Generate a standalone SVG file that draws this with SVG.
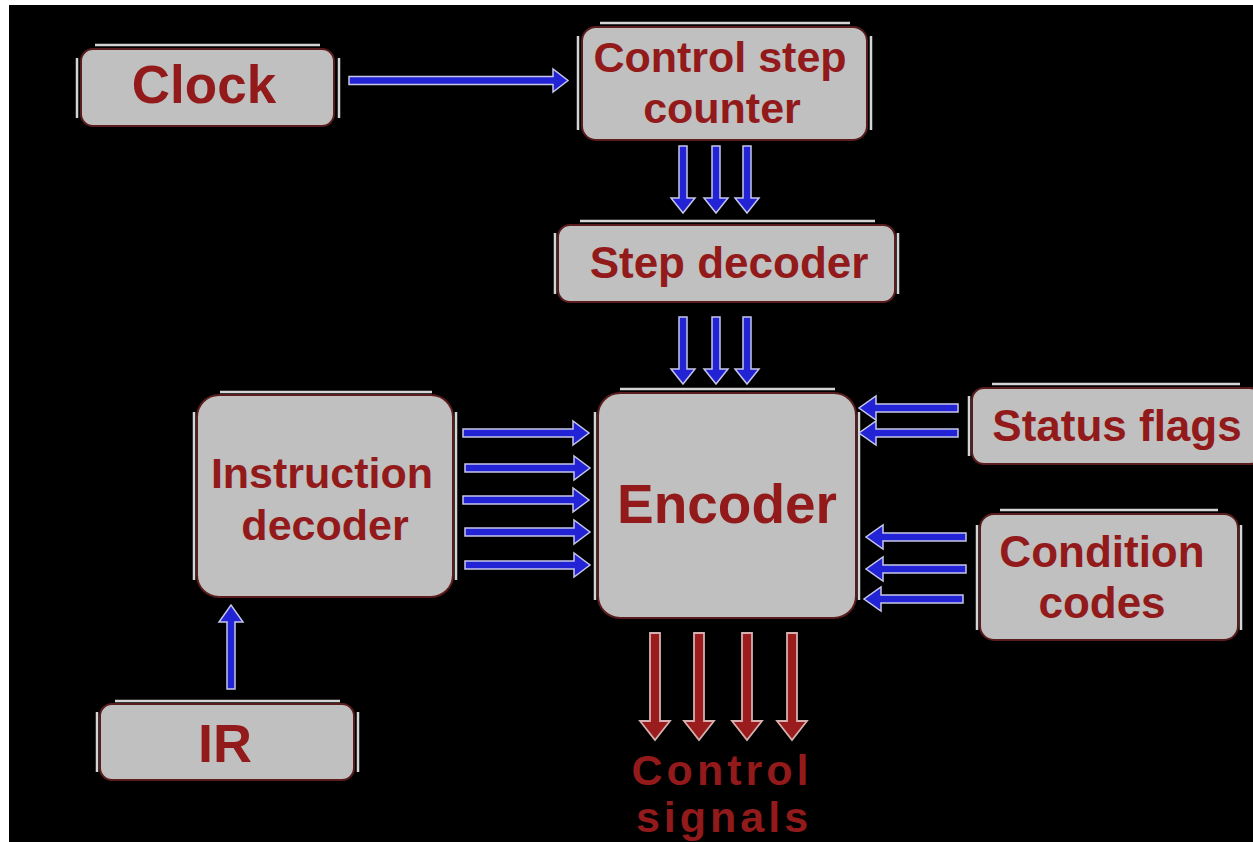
<svg xmlns="http://www.w3.org/2000/svg" width="1253" height="842" viewBox="0 0 1253 842">
<style>
.bx{fill:#c0c0c0;stroke:#5a1c1c;stroke-width:2}
.hl{fill:none;stroke:#d4d4d4;stroke-width:2.5}
.t{font-family:"Liberation Sans",Arial,sans-serif;font-weight:bold;fill:#921a1a;text-anchor:middle}
.ab{fill:#2323d6;stroke:#c6c6ea;stroke-width:1.5;stroke-linejoin:miter}
.ar{fill:#9a1c1c;stroke:#d6b0b0;stroke-width:1.8}
</style>
<rect x="0" y="0" width="1253" height="842" fill="#ffffff"/>
<rect x="9" y="5" width="1244" height="837" fill="#000000"/>

<g id="clock">
<rect class="bx" x="81" y="49" width="253" height="77" rx="12"/>
<path class="hl" d="M95 45H320M77 58V118M339 58V118"/>
<text class="t" x="204" y="103" font-size="53">Clock</text>
</g>
<g id="control-step-counter">
<rect class="bx" x="582" y="27" width="285" height="113" rx="14"/>
<path class="hl" d="M600 23H850M578 36V130M871 36V130"/>
<text class="t" x="720" y="72" font-size="43">Control step</text>
<text class="t" x="722" y="123" font-size="43">counter</text>
</g>
<g id="step-decoder">
<rect class="bx" x="558" y="225" width="337" height="77" rx="12"/>
<path class="hl" d="M580 221H875M555 233V294M898 233V294"/>
<text class="t" x="729" y="278" font-size="44">Step decoder</text>
</g>
<g id="encoder">
<rect class="bx" x="598" y="393" width="258" height="225" rx="22"/>
<path class="hl" d="M620 389H835M595 412V600M859 412V600"/>
<text class="t" x="727" y="523" font-size="55">Encoder</text>
</g>
<g id="instruction-decoder">
<rect class="bx" x="197" y="395" width="256" height="202" rx="22"/>
<path class="hl" d="M220 392H432M194 412V580M456 412V580"/>
<text class="t" x="322" y="488" font-size="43">Instruction</text>
<text class="t" x="325" y="540" font-size="43">decoder</text>
</g>
<g id="status-flags">
<rect class="bx" x="972" y="388" width="290" height="76" rx="12"/>
<path class="hl" d="M992 384H1240M969 396V456"/>
<text class="t" x="1117" y="441" font-size="44">Status flags</text>
</g>
<g id="condition-codes">
<rect class="bx" x="980" y="514" width="258" height="126" rx="14"/>
<path class="hl" d="M1000 510H1218M977 525V630M1241 525V630"/>
<text class="t" x="1102" y="567" font-size="44">Condition</text>
<text class="t" x="1102" y="618" font-size="44">codes</text>
</g>
<g id="ir">
<rect class="bx" x="100" y="704" width="254" height="76" rx="12"/>
<path class="hl" d="M115 701H340M97 712V772M358 712V772"/>
<text class="t" x="225" y="762" font-size="54">IR</text>
</g>
<g id="control-signals">
<text class="t" x="722" y="785" font-size="43" letter-spacing="4">Control</text>
<text class="t" x="724" y="832" font-size="43" letter-spacing="4">signals</text>
</g>

<g id="connectors">
<polygon class="ab" points="349,76.5 553,76.5 553,69 568,80.5 553,92 553,84.5 349,84.5"/>
<polygon class="ab" points="679,146 687,146 687,198 695,198 683,213 671,198 679,198"/>
<polygon class="ab" points="712,146 720,146 720,198 728,198 716,213 704,198 712,198"/>
<polygon class="ab" points="743,146 751,146 751,198 759,198 747,213 735,198 743,198"/>
<polygon class="ab" points="679,317 687,317 687,369 695,369 683,384 671,369 679,369"/>
<polygon class="ab" points="712,317 720,317 720,369 728,369 716,384 704,369 712,369"/>
<polygon class="ab" points="743,317 751,317 751,369 759,369 747,384 735,369 743,369"/>
<polygon class="ab" points="463,429 573,429 573,421 589,433 573,445 573,437 463,437"/>
<polygon class="ab" points="465,464 574,464 574,456 590,468 574,480 574,472 465,472"/>
<polygon class="ab" points="463,496 573,496 573,488 589,500 573,512 573,504 463,504"/>
<polygon class="ab" points="465,528 574,528 574,520 590,532 574,544 574,536 465,536"/>
<polygon class="ab" points="465,561 574,561 574,553 590,565 574,577 574,569 465,569"/>
<polygon class="ab" points="958,404 876,404 876,396 859,408 876,420 876,412 958,412"/>
<polygon class="ab" points="958,429 876,429 876,421 859,433 876,445 876,437 958,437"/>
<polygon class="ab" points="966,533 883,533 883,525 866,537 883,549 883,541 966,541"/>
<polygon class="ab" points="966,565 883,565 883,557 866,569 883,581 883,573 966,573"/>
<polygon class="ab" points="963,595 881,595 881,587 864,599 881,611 881,603 963,603"/>
<polygon class="ab" points="227,689 235,689 235,622 243,622 231,605 219,622 227,622"/>
<polygon class="ar" points="650,633 660,633 660,721 670,721 655,740 640,721 650,721"/>
<polygon class="ar" points="694,633 704,633 704,721 714,721 699,740 684,721 694,721"/>
<polygon class="ar" points="742,633 752,633 752,721 762,721 747,740 732,721 742,721"/>
<polygon class="ar" points="787,633 797,633 797,721 807,721 792,740 777,721 787,721"/>
</g>
</svg>
